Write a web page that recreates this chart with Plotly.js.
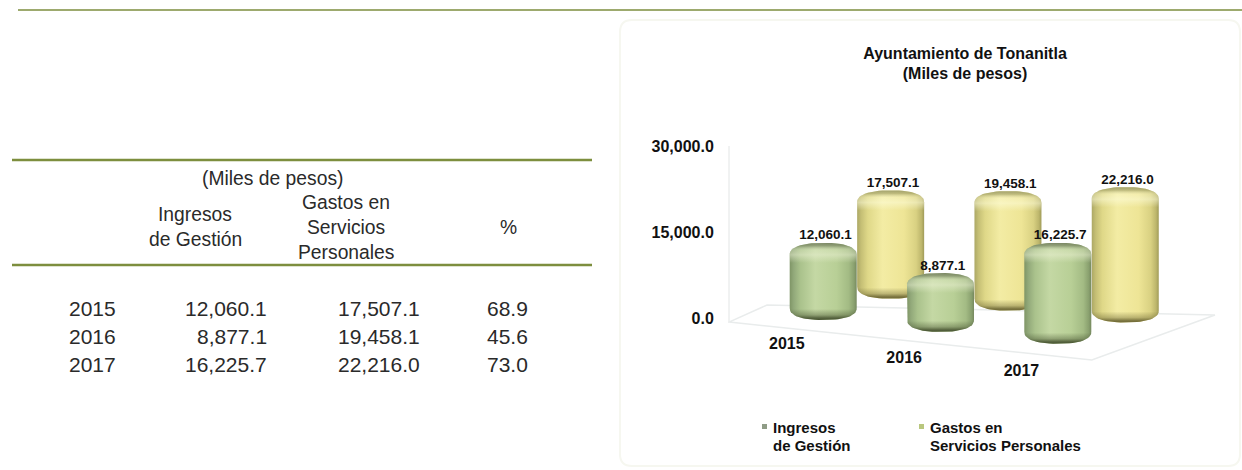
<!DOCTYPE html>
<html><head><meta charset="utf-8">
<script src="https://cdn.plot.ly/plotly-3.0.1.min.js"></script>
<style>html,body{margin:0;padding:0;background:#fff}#c{width:1242px;height:470px}</style>
</head><body><div id="c"></div>
<script>
const years = ['2015','2016','2017'];
const ingresos = [12060.1, 8877.1, 16225.7];
const gastos = [17507.1, 19458.1, 22216.0];
const porcentaje = [68.9, 45.6, 73.0];
const yTicks = [0, 15000, 30000];
const nameIngresos = 'Ingresos de Gestión';
const nameGastos = 'Gastos en Servicios Personales';

const W = 1242, H = 470;
const FONT = '"Liberation Sans", Arial, sans-serif';
const INK = '#111';
const fmt = v => v.toLocaleString('en-US', {minimumFractionDigits: 1, maximumFractionDigits: 1});

// plot box in page pixels and axis ranges
const box = {l: 728, r: 1230, t: 146, b: 385};
const pxPerX = 117.3, x0Px = 823.2;
const pxPerY = 172 / 30000;
const xRange = [(box.l - x0Px) / pxPerX, (box.r - x0Px) / pxPerX];
const yRange = [(318 - box.b) / pxPerY, 30000];

// oblique floor projection: year index + series depth
const seriesStepX = 0.575, depthY = -2070, seriesY = 3706, floorY0 = 349;
const posX = (i, s) => i + s * seriesStepX;
const posBase = (i, s) => floorY0 + depthY * i + seriesY * s;
const barW = 67 / pxPerX;
const capPx = 4, capY = capPx / pxPerY, shoulderY = 12 / pxPerY;

function silhouette(cx, base, val) {
  const xs = [], ys = [], r = barW / 2, top = base + val, n = 32;
  const sp = v => Math.sign(v) * Math.pow(Math.abs(v), 0.85);
  const hi = top + capY, lo = base - capY;
  for (let k = 0; k <= n; k++) { const t = Math.PI * k / n; xs.push(cx + r * sp(Math.cos(t))); ys.push(hi - shoulderY * (1 - sp(Math.sin(t)))); }
  for (let k = 0; k <= n; k++) { const t = Math.PI * k / n; xs.push(cx - r * sp(Math.cos(t))); ys.push(lo + shoulderY * (1 - sp(Math.sin(t)))); }
  xs.push(xs[0]); ys.push(ys[0]);
  return {xs, ys};
}
const palette = [
  {h: [[0,'#7f9566'],[0.06,'#92a97a'],[0.16,'#aac28c'],[0.38,'#c4d8a4'],[0.7,'#b8cf96'],[0.88,'#a3bb84'],[0.96,'#8aa16f'],[1,'#76895f']], rim: '110,120,90', low: '70,82,48', hi: '238,243,215'},
  {h: [[0,'#aca865'],[0.06,'#c5bf75'],[0.16,'#dfd888'],[0.38,'#f3eca4'],[0.7,'#eee596'],[0.88,'#d9d182'],[0.96,'#bdb66c'],[1,'#a09b58']], rim: '150,150,100', low: '108,102,52', hi: '255,255,225'}
];
function cylinder(i, s, val) {
  const cx = posX(i, s), base = posBase(i, s), g = silhouette(cx, base, val), p = palette[s];
  const yLow = base - capY, yTop = base + val + capY, hPx = (yTop - yLow) * pxPerY;
  const at = px => Math.max(0, Math.min(1, px / hPx));
  const topAt = px => at(hPx - px);
  const common = {x: g.xs, y: g.ys, type: 'scatter', mode: 'lines', fill: 'toself', line: {width: 0}, hoverinfo: 'skip', showlegend: false, cliponaxis: false};
  return [
    Object.assign({}, common, {fillgradient: {type: 'horizontal', colorscale: p.h}}),
    Object.assign({}, common, {fillgradient: {type: 'vertical', colorscale: [
      [0, `rgba(${p.low},1)`], [at(2), `rgba(${p.low},0.85)`], [at(5), `rgba(${p.low},0.4)`], [at(11), `rgba(${p.low},0)`],
      [topAt(20), `rgba(${p.hi},0)`], [topAt(12), `rgba(${p.hi},0.5)`], [topAt(7), `rgba(${p.hi},0.3)`],
      [topAt(3), `rgba(${p.rim},0.55)`], [1, `rgba(${p.rim},0.85)`]
    ]}})
  ];
}

const traces = [];
// the value bars, drawn through the axes (rounded bodies sit on top)
[[ingresos, nameIngresos, '#b8cf96', 0], [gastos, nameGastos, '#eee596', 1]].forEach(([vals, name, color, s]) => {
  traces.push({type: 'bar', name, x: years.map((_, i) => posX(i, s)), y: vals, base: vals.map((_, i) => posBase(i, s)),
    width: barW * 0.8, marker: {color}, showlegend: false, cliponaxis: false, hoverinfo: 'y+name'});
});
gastos.forEach((v, i) => traces.push(...cylinder(i, 1, v)));
ingresos.forEach((v, i) => traces.push(...cylinder(i, 0, v)));
// value labels
[[ingresos, 0], [gastos, 1]].forEach(([vals, s]) => {
  traces.push({type: 'scatter', mode: 'text', x: vals.map((_, i) => posX(i, s) + 0.02), y: vals.map((v, i) => posBase(i, s) + v + capY),
    text: vals.map(fmt), textposition: 'top center', textfont: {family: FONT, size: 13.5, color: INK, weight: 'bold'},
    hoverinfo: 'skip', showlegend: false, cliponaxis: false});
});
// year labels on the floor
traces.push({type: 'scatter', mode: 'text', x: years.map((_, i) => i - 0.31), y: years.map((_, i) => -4709 - 2355 * i),
  text: years, textposition: 'middle center', textfont: {family: FONT, size: 16, color: INK, weight: 'bold'},
  hoverinfo: 'skip', showlegend: false, cliponaxis: false});

// helpers for the table and page furniture, in page pixels
const rx = p => p / W, ry = p => 1 - p / H;
const anns = [];
const T = (text, x, y, anchor, size, bold) => anns.push({xref: 'paper', yref: 'paper', x: rx(x), y: ry(y), text: bold ? `<b>${text}</b>` : text,
  xanchor: anchor, yanchor: 'middle', showarrow: false, align: anchor, font: {family: FONT, size, color: bold ? INK : '#2a2a2a'}});
const HEAD = 19.3, ROW = 21;
T('(Miles de pesos)', 272, 178, 'center', HEAD);
T('Ingresos', 195, 215, 'center', HEAD); T('de Gestión', 195, 239, 'center', HEAD);
T('Gastos en', 346, 202, 'center', HEAD); T('Servicios', 346, 227, 'center', HEAD); T('Personales', 346, 252, 'center', HEAD);
T('%', 508, 227, 'center', HEAD);
const rowY = [308.5, 336.5, 364.5];
years.forEach((y, i) => {
  T(y, 92, rowY[i], 'center', ROW);
  T(fmt(ingresos[i]), 269, rowY[i], 'right', ROW);
  T(fmt(gastos[i]), 422, rowY[i], 'right', ROW);
  T(porcentaje[i].toFixed(1), 507, rowY[i], 'center', ROW);
});
// legend
T('Ingresos', 771, 427, 'left', 15, true); T('de Gestión', 771, 445, 'left', 15, true);
T('Gastos en', 928, 427, 'left', 15, true); T('Servicios Personales', 928, 445, 'left', 15, true);

const rule = (x0, x1, y, w) => ({type: 'line', xref: 'paper', yref: 'paper', x0: rx(x0), x1: rx(x1), y0: ry(y), y1: ry(y), line: {color: '#7d8e3e', width: w}});
const pxBox = (x0, y0, x1, y1, c) => ({type: 'rect', xref: 'paper', yref: 'paper', x0: rx(x0), x1: rx(x1), y0: ry(y0), y1: ry(y1), fillcolor: c, line: {width: 0}});
const floorPath = 'M-0.803,-700 L2.29,-7324 L3.34,520 L-0.479,2267 Z';
const shapes = [
  {type: 'path', xref: 'paper', yref: 'paper', layer: 'below',
   path: `M${rx(632)},${ry(20)} L${rx(1228)},${ry(20)} Q${rx(1240)},${ry(20)} ${rx(1240)},${ry(32)} L${rx(1240)},${ry(454)} Q${rx(1240)},${ry(466)} ${rx(1228)},${ry(466)} L${rx(632)},${ry(466)} Q${rx(620)},${ry(466)} ${rx(620)},${ry(454)} L${rx(620)},${ry(32)} Q${rx(620)},${ry(20)} ${rx(632)},${ry(20)} Z`,
   fillcolor: '#ffffff', line: {color: '#f6f7f0', width: 2}},
  {type: 'path', xref: 'x', yref: 'y', layer: 'below', path: floorPath, line: {color: '#e9ecec', width: 1.5}},
  {type: 'line', xref: 'x', yref: 'y', layer: 'below', x0: -0.803, x1: -0.803, y0: -700, y1: 30000, line: {color: '#eceeee', width: 1.5}},
  rule(18, 1242, 10, 1.5), rule(12, 592, 160, 2.5), rule(12, 592, 265, 2.5),
  pxBox(762, 424, 767, 429, '#8f9c86'), pxBox(919, 424, 924, 429, '#b9c77e')
];

const layout = {
  width: W, height: H, margin: {l: 0, r: 0, t: 0, b: 0}, paper_bgcolor: '#fff', plot_bgcolor: 'rgba(0,0,0,0)',
  barmode: 'overlay', showlegend: false,
  title: {text: '<b>Ayuntamiento de Tonanitla</b><br><b>(Miles de pesos)</b>', x: 965 / W, xanchor: 'center', y: 1 - 58.5 / H, yanchor: 'middle',
    font: {family: FONT, size: 16, color: INK}},
  xaxis: {domain: [box.l / W, box.r / W], range: xRange, showgrid: false, zeroline: false, showline: false, showticklabels: false, ticks: '', fixedrange: true},
  yaxis: {domain: [1 - box.b / H, 1 - box.t / H], range: yRange, showgrid: false, zeroline: false, showline: false,
    tickvals: yTicks, ticktext: yTicks.map(fmt), ticks: 'outside', ticklen: 10, tickcolor: 'rgba(0,0,0,0)',
    tickfont: {family: FONT, size: 16, color: INK, weight: 'bold'}, fixedrange: true},
  annotations: anns, shapes
};
Plotly.newPlot('c', traces, layout, {displayModeBar: false, staticPlot: true});
</script></body></html>
